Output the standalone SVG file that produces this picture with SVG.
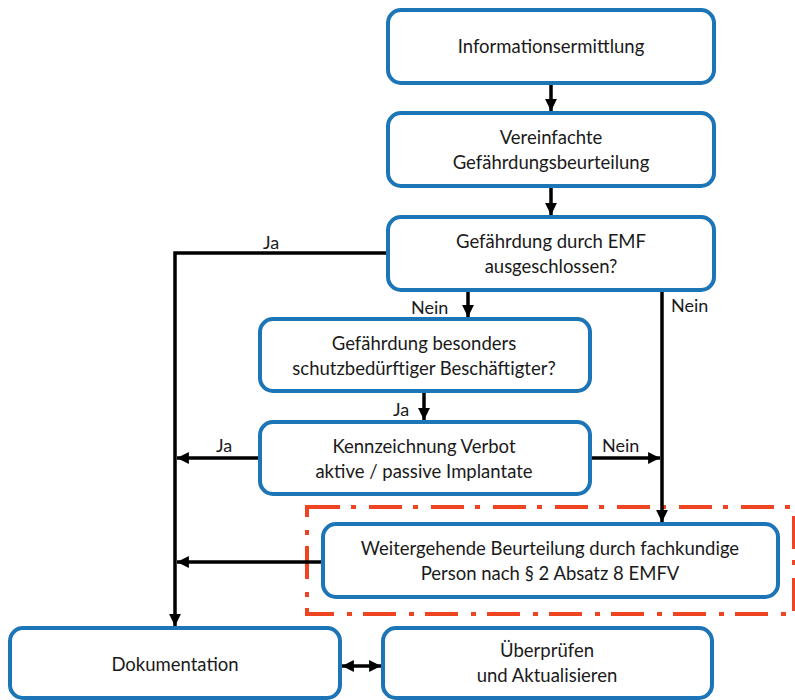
<svg xmlns="http://www.w3.org/2000/svg" width="795" height="700" viewBox="0 0 795 700">
<defs>
<style>
.box{fill:#fff;stroke:#1b75b6;stroke-width:4}
.t{font-family:Lato,"Liberation Sans",sans-serif;font-size:18.5px;fill:#1a1a1a;text-anchor:middle}
.l{font-family:Lato,"Liberation Sans",sans-serif;font-size:18px;fill:#1a1a1a}
.c{fill:none;stroke:#000;stroke-width:3.5}
.red{fill:none;stroke:#ee4422;stroke-width:4;stroke-dasharray:33 11 5 13}
</style>
<marker id="ah" viewBox="0 0 10 10" refX="10" refY="5" markerWidth="3.4" markerHeight="3.4" orient="auto-start-reverse" markerUnits="strokeWidth">
<path d="M0,0 L10,5 L0,10 z" fill="#000"/>
</marker>
</defs>
<rect width="795" height="700" fill="#fff"/>
<rect class="red" x="307" y="507" width="487" height="107"/>
<g id="connectors">
<line class="c" x1="551" y1="83" x2="551" y2="111" marker-end="url(#ah)"/>
<line class="c" x1="551" y1="186" x2="551" y2="215" marker-end="url(#ah)"/>
<polyline class="c" points="388,253 175,253 175,626" marker-end="url(#ah)"/>
<line class="c" x1="468" y1="290" x2="468" y2="317" marker-end="url(#ah)"/>
<line class="c" x1="662" y1="290" x2="662" y2="522" marker-end="url(#ah)"/>
<line class="c" x1="424" y1="391" x2="424" y2="420" marker-end="url(#ah)"/>
<line class="c" x1="259" y1="458" x2="177" y2="458" marker-end="url(#ah)"/>
<line class="c" x1="590" y1="458" x2="660" y2="458" marker-end="url(#ah)"/>
<line class="c" x1="323" y1="562" x2="177" y2="562" marker-end="url(#ah)"/>
<line class="c" x1="342" y1="666" x2="381" y2="666" marker-start="url(#ah)" marker-end="url(#ah)"/>
<text class="l" x="263" y="249">Ja</text>
<text class="l" x="411" y="314">Nein</text>
<text class="l" x="671" y="312">Nein</text>
<text class="l" x="393" y="416">Ja</text>
<text class="l" x="216" y="452">Ja</text>
<text class="l" x="602" y="452">Nein</text>
</g>
<g id="n1"><rect class="box" x="388" y="10" width="326" height="73" rx="13"/><text class="t" x="551" y="53">Informationsermittlung</text></g>
<g id="n2"><rect class="box" x="388" y="113" width="326" height="73" rx="13"/><text class="t" x="551" y="144">Vereinfachte</text><text class="t" x="551" y="169">Gefährdungsbeurteilung</text></g>
<g id="n3"><rect class="box" x="388" y="217" width="326" height="73" rx="13"/><text class="t" x="551" y="248">Gefährdung durch EMF</text><text class="t" x="551" y="273">ausgeschlossen?</text></g>
<g id="n4"><rect class="box" x="260" y="319" width="330" height="72" rx="13"/><text class="t" x="424" y="350">Gefährdung besonders</text><text class="t" x="424" y="375">schutzbedürftiger Beschäftigter?</text></g>
<g id="n5"><rect class="box" x="260" y="422" width="330" height="72" rx="13"/><text class="t" x="424" y="453">Kennzeichnung Verbot</text><text class="t" x="424" y="478">aktive / passive Implantate</text></g>
<g id="n6"><rect class="box" x="323" y="524" width="455" height="73" rx="13"/><text class="t" x="550" y="555">Weitergehende Beurteilung durch fachkundige</text><text class="t" x="550" y="580">Person nach § 2 Absatz 8 EMFV</text></g>
<g id="n7"><rect class="box" x="10" y="628" width="330" height="70" rx="13"/><text class="t" x="175" y="671">Dokumentation</text></g>
<g id="n8"><rect class="box" x="383" y="628" width="329" height="70" rx="13"/><text class="t" x="547" y="657">Überprüfen</text><text class="t" x="547" y="682">und Aktualisieren</text></g>
</svg>
